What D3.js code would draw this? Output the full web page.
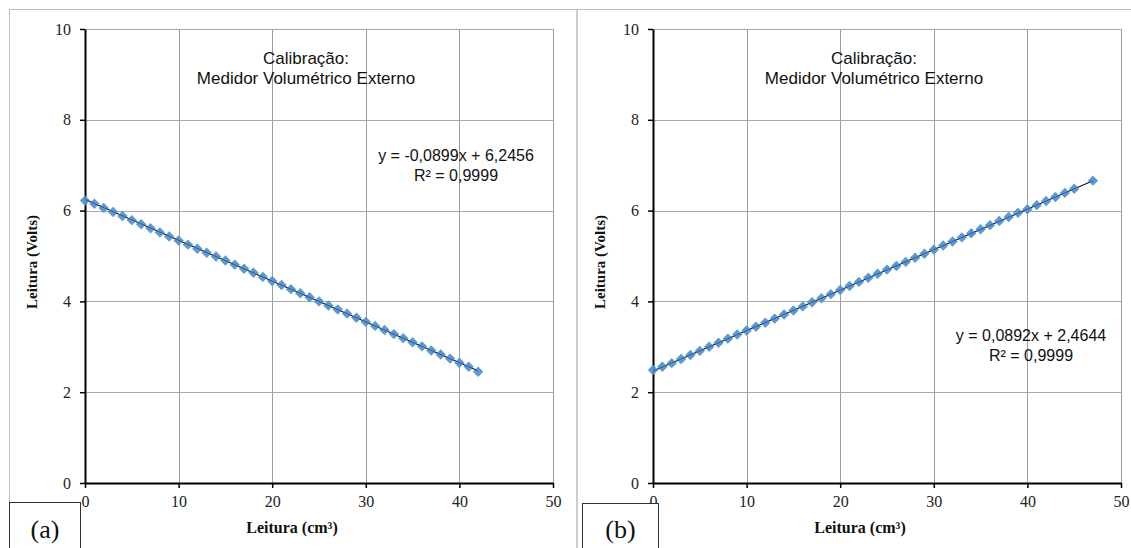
<!DOCTYPE html>
<html><head><meta charset="utf-8">
<script src="https://cdn.jsdelivr.net/npm/d3@7"></script>
<style>body{margin:0;background:#fff}svg{display:block}</style>
</head><body>
<svg id="c" width="1131" height="548"></svg>
<script>
// ---- data ----
const xTicks = [0, 10, 20, 30, 40, 50];
const yTicks = [0, 2, 4, 6, 8, 10];
const titleLines = ["Calibração:", "Medidor Volumétrico Externo"];
const xTitle = "Leitura (cm³)";
const yTitle = "Leitura (Volts)";

const xA = [0,1,2,3,4,5,6,7,8,9,10,11,12,13,14,15,16,17,18,19,20,21,22,23,24,25,26,27,28,29,30,31,32,33,34,35,36,37,38,39,40,41,42];
const yA = [6.22,6.15,6.06,5.97,5.88,5.79,5.70,5.61,5.52,5.43,5.34,5.25,5.16,5.07,4.99,4.90,4.81,4.72,4.63,4.54,4.45,4.36,4.27,4.18,4.09,4.00,3.91,3.82,3.73,3.64,3.55,3.46,3.37,3.28,3.19,3.10,3.01,2.92,2.83,2.74,2.65,2.56,2.45];
const fitA = [-0.0899, 6.2456];
const eqA = ["y = -0,0899x + 6,2456", "R² = 0,9999"];

const xB = [0,1,2,3,4,5,6,7,8,9,10,11,12,13,14,15,16,17,18,19,20,21,22,23,24,25,26,27,28,29,30,31,32,33,34,35,36,37,38,39,40,41,42,43,44,45,47];
const yB = [2.49,2.56,2.64,2.73,2.82,2.91,3.00,3.09,3.18,3.27,3.36,3.44,3.53,3.62,3.71,3.80,3.89,3.98,4.07,4.16,4.25,4.34,4.43,4.52,4.61,4.70,4.78,4.87,4.96,5.05,5.14,5.23,5.32,5.41,5.50,5.59,5.68,5.77,5.86,5.95,6.03,6.12,6.21,6.30,6.39,6.48,6.66];
const fitB = [0.0892, 2.4644];
const eqB = ["y = 0,0892x + 2,4644", "R² = 0,9999"];

const panels = [
  {x: xA, y: yA, fit: fitA, eq: eqA, label: "(a)", left: 85, right: 553, eqX: 456, eqY: 161, box: [9, 502, 71]},
  {x: xB, y: yB, fit: fitB, eq: eqB, label: "(b)", left: 653, right: 1121, eqX: 1031, eqY: 341, box: [582, 503, 76]}
];

const svg = d3.select("#c");
const plotTop = 29, plotBottom = 483;
const frame = "#bdbdbd";

// outer frames
svg.append("line").attr("x1", 9).attr("x2", 1131).attr("y1", 9.5).attr("y2", 9.5).attr("stroke", frame);
svg.append("line").attr("x1", 9.5).attr("x2", 9.5).attr("y1", 9).attr("y2", 502).attr("stroke", frame);
svg.append("line").attr("x1", 577).attr("x2", 577).attr("y1", 9).attr("y2", 548).attr("stroke", frame).attr("stroke-width", 1.5);

const serif = "'Liberation Serif','Times New Roman',serif";
const sans = "'Liberation Sans',Arial,sans-serif";

panels.forEach(p => {
  const x = d3.scaleLinear().domain([0, 50]).range([p.left, p.right]);
  const y = d3.scaleLinear().domain([0, 10]).range([plotBottom, plotTop]);
  const g = svg.append("g");

  // gridlines
  g.selectAll(".vg").data(xTicks.slice(1)).join("line")
    .attr("x1", d => Math.round(x(d)) + 0.5).attr("x2", d => Math.round(x(d)) + 0.5)
    .attr("y1", plotTop).attr("y2", plotBottom).attr("stroke", "#9e9e9e");
  g.selectAll(".hg").data(yTicks.slice(1)).join("line")
    .attr("y1", d => Math.round(y(d)) + 0.5).attr("y2", d => Math.round(y(d)) + 0.5)
    .attr("x1", p.left).attr("x2", p.right).attr("stroke", "#a8a8a8");

  // axes
  const ax = g.append("g").attr("transform", `translate(0,${plotBottom})`)
    .call(d3.axisBottom(x).tickValues(xTicks).tickSize(5).tickSizeOuter(0).tickPadding(8));
  const ay = g.append("g").attr("transform", `translate(${p.left},0)`)
    .call(d3.axisLeft(y).tickValues(yTicks).tickSize(5).tickSizeOuter(0).tickPadding(9));
  [ax, ay].forEach(a => {
    a.select(".domain").attr("stroke", "#000").attr("stroke-width", 2);
    a.selectAll(".tick line").attr("stroke", "#000").attr("stroke-width", 1.5);
    a.selectAll(".tick text").attr("font-family", serif).attr("font-size", 16).attr("fill", "#222");
  });

  // trendline
  const x0 = d3.min(p.x), x1 = d3.max(p.x);
  g.append("line")
    .attr("x1", x(x0)).attr("y1", y(p.fit[0] * x0 + p.fit[1]))
    .attr("x2", x(x1)).attr("y2", y(p.fit[0] * x1 + p.fit[1]))
    .attr("stroke", "#000").attr("stroke-width", 1);

  // markers
  const pts = p.x.map((d, i) => [d, p.y[i]]);
  g.selectAll(".pt").data(pts).join("path")
    .attr("d", "M0,-5.2L5.2,0L0,5.2L-5.2,0Z")
    .attr("transform", d => `translate(${x(d[0])},${y(d[1])})`)
    .attr("fill", "#5393d3").attr("fill-opacity", 0.95);
  g.append("line")
    .attr("x1", x(x0)).attr("y1", y(p.fit[0] * x0 + p.fit[1]))
    .attr("x2", x(x1)).attr("y2", y(p.fit[0] * x1 + p.fit[1]))
    .attr("stroke", "#1a2a3a").attr("stroke-width", 0.8).attr("stroke-opacity", 0.6);

  // title
  const cx = (p.left + p.right) / 2 - 13;
  titleLines.forEach((t, i) => {
    g.append("text").attr("x", cx).attr("y", 64 + i * 20).attr("text-anchor", "middle")
      .attr("font-family", sans).attr("font-size", 17).attr("fill", "#111").text(t);
  });

  // equation
  p.eq.forEach((t, i) => {
    g.append("text").attr("x", p.eqX).attr("y", p.eqY + i * 20).attr("text-anchor", "middle")
      .attr("font-family", sans).attr("font-size", 16).attr("fill", "#111").text(t);
  });

  // axis titles
  g.append("text").attr("x", (p.left + p.right) / 2 - 27).attr("y", 533).attr("text-anchor", "middle")
    .attr("font-family", serif).attr("font-weight", "bold").attr("font-size", 16).attr("fill", "#111").text(xTitle);
  g.append("text").attr("transform", `translate(${p.left - 48},${(plotTop + plotBottom) / 2 + 6}) rotate(-90)`)
    .attr("text-anchor", "middle")
    .attr("font-family", serif).attr("font-weight", "bold").attr("font-size", 15).attr("fill", "#111").text(yTitle);

  // panel label box
  g.append("rect").attr("x", p.box[0] + 0.5).attr("y", p.box[1] + 0.5).attr("width", p.box[2]).attr("height", 60)
    .attr("fill", "#fff").attr("stroke", "#333");
  g.append("text").attr("x", p.box[0] + p.box[2] / 2 + 0.5).attr("y", 538).attr("text-anchor", "middle")
    .attr("font-family", serif).attr("font-size", 26).attr("fill", "#111").text(p.label);
});
</script>
</body></html>
